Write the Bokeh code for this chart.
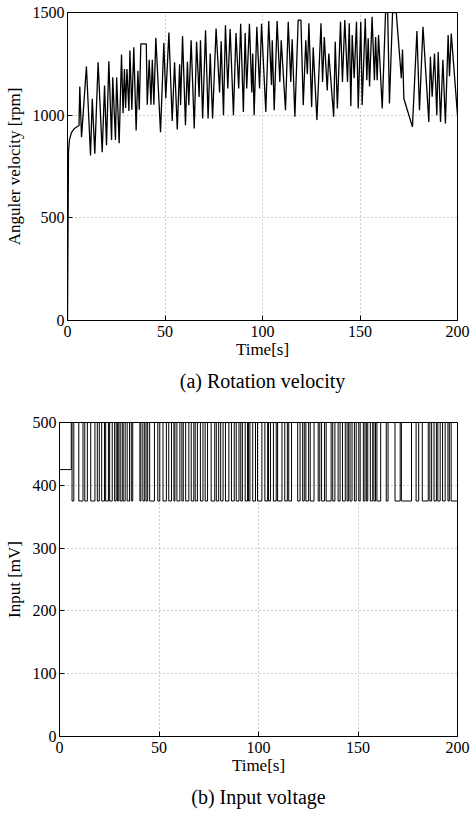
from bokeh.plotting import figure
from bokeh.models import Range1d, FixedTicker, Title
from bokeh.embed import file_html
from bokeh.resources import INLINE

# ---------------- data ----------------
# (a) rotation velocity: turning points of the measured trace
vel_t = [0.0, 0.5, 1.0, 2.0, 3.5, 5.9,
         6.3, 7.2, 9.7, 11.8, 12.7, 14.0, 15.7, 17.8, 19.0, 20.0, 21.2, 22.6, 23.2, 24.6,
         25.2, 26.5, 27.7, 28.5, 29.2, 29.8, 30.5, 31.5, 32.0, 33.0, 34.0, 35.2, 36.1, 36.8,
         37.6, 40.4, 40.9, 41.9, 42.8, 43.5, 44.3, 45.3, 47.7, 49.4, 50.4, 52.0, 53.7, 54.9,
         56.3, 57.5, 58.0, 59.0, 60.5, 61.5, 62.2, 63.4, 65.0, 66.2, 67.5, 68.2, 69.3, 70.8,
         72.1, 73.2, 74.4, 76.2, 78.0, 78.8, 80.0, 81.0, 82.2, 83.4, 85.1, 86.4, 87.8, 88.8,
         90.2, 91.1, 91.9, 93.3, 94.5, 95.0, 95.7, 97.1, 98.5, 99.5, 101.7, 103.2, 104.6, 105.0,
         106.0, 107.5, 108.9, 109.6, 111.8, 113.2, 114.5, 115.2, 116.6, 118.3, 119.7, 120.9,
         122.2, 123.0, 123.8, 125.2, 126.0, 127.9, 130.0, 130.8, 131.7, 133.2, 134.0, 136.5,
         137.3, 138.4, 140.0, 141.0, 142.2, 143.6, 144.5, 145.3, 146.0, 147.0, 148.2, 149.1,
         150.4, 151.1, 152.7, 153.5, 154.2, 154.9, 156.2, 157.4, 158.0, 158.8, 159.5, 161.4,
         163.1, 164.2, 165.1, 166.7, 168.6, 171.2, 171.8, 172.5, 176.9, 179.2, 180.5, 182.3,
         185.3, 186.1, 187.0, 188.2, 189.4, 190.1, 191.3, 192.5, 193.8, 195.2, 195.9, 196.8,
         200.0]
vel_rpm = [0, 820, 880, 915, 935, 950,
           1140, 893, 1237, 804, 1080, 812, 1258, 820, 1144, 853, 1263, 879, 1185, 879,
           1185, 863, 1295, 1010, 1225, 1035, 1225, 1020, 1315, 1027, 1331, 926, 1216, 1027,
           1347, 1347, 1051, 1270, 1051, 1270, 1051, 1377, 917, 1353, 1083, 1402, 972, 1258,
           930, 1248, 1049, 1385, 951, 1260, 1049, 1365, 935, 1357, 1089, 1365, 984, 1414,
           984, 1300, 984, 1422, 1110, 1360, 1000, 1438, 1130, 1420, 1000, 1400, 1130, 1445,
           1015, 1400, 1130, 1445, 1110, 1300, 1000, 1430, 1130, 1445, 1016, 1458, 1147, 1365,
           1024, 1458, 1162, 1365, 1024, 1455, 1162, 1370, 992, 1463, 1463, 1049,
           1365, 1200, 1447, 1040, 1330, 976, 1447, 1162, 1380, 1120, 1300, 992,
           1357, 1033, 1455, 1162, 1463, 1162, 1447, 1044, 1390, 1180, 1455, 1033,
           1455, 1049, 1471, 1170, 1375, 1140, 1479, 1170, 1380, 1170, 1390, 1033,
           1500, 1500, 1057, 1500, 1500, 1180, 1320, 1080, 943, 1410, 1024, 1430,
           967, 1285, 1090, 1300, 1000, 1308, 967, 1270, 960, 1390, 1190, 1398,
           1000]

# (b) input voltage levels [mV]
input_hold_mv = 425      # initial level
input_hold_until = 5.9   # s
input_high_mv = 500
input_low_mv = 375

x_ticks = [0, 50, 100, 150, 200]
vel_ticks = [0, 500, 1000, 1500]
inp_ticks = [0, 100, 200, 300, 400, 500]

# input switches high while the speed rises and low while it falls
inp_t = [0.0]
inp_mv = [input_hold_mv]
k0 = vel_t.index(input_hold_until)
for i in range(k0, len(vel_t) - 1):
    lvl = input_high_mv if vel_rpm[i + 1] >= vel_rpm[i] else input_low_mv
    inp_t.append(vel_t[i])
    inp_mv.append(lvl)
inp_t.append(vel_t[-1])
inp_mv.append(inp_mv[-1])

FONT = "Liberation Serif"


def style(p, yticks, ylabel, label_standoff, caption, cap_offset, cap_standoff):
    p.xaxis.ticker = FixedTicker(ticks=x_ticks)
    p.yaxis.ticker = FixedTicker(ticks=yticks)
    for ax in [p.xaxis[0], p.yaxis[0]]:
        ax.major_tick_in = 5
        ax.major_tick_out = 0
        ax.minor_tick_line_color = None
        ax.major_label_text_font = FONT
        ax.major_label_text_font_size = "16px"
        ax.major_label_text_color = "black"
        ax.axis_label_text_font = FONT
        ax.axis_label_text_font_size = "17px"
        ax.axis_label_text_font_style = "normal"
        ax.axis_label_text_color = "black"
        ax.axis_line_color = "black"
        ax.major_tick_line_color = "black"
    p.xaxis.axis_label = "Time[s]"
    p.xaxis.major_label_standoff = 5
    p.xaxis.axis_label_standoff = 0
    p.yaxis.axis_label = ylabel
    p.yaxis.major_label_standoff = 3
    p.yaxis.axis_label_standoff = label_standoff
    p.xgrid.ticker = FixedTicker(ticks=x_ticks)
    p.ygrid.ticker = FixedTicker(ticks=yticks)
    for g in [p.xgrid[0], p.ygrid[0]]:
        g.grid_line_color = "#9a9a9a"
        g.grid_line_dash = "1 3"
        g.grid_line_width = 1
    p.outline_line_color = "black"
    p.outline_line_width = 1
    p.background_fill_color = "white"
    p.border_fill_color = "white"
    cap = Title(text=caption, align="center", offset=cap_offset, standoff=cap_standoff,
                text_font=FONT, text_font_size="20px", text_font_style="normal",
                text_color="black")
    p.add_layout(cap, "below")


p1 = figure(width=471, height=404, x_range=Range1d(0, 200), y_range=Range1d(0, 1500),
            output_backend="svg", toolbar_location=None,
            min_border_left=67, min_border_right=14, min_border_top=12, min_border_bottom=84)
p1.line(vel_t, vel_rpm, line_color="black", line_width=1.3)
style(p1, vel_ticks, "Anguler velocity [rpm]", 6, "(a) Rotation velocity", -23, 12)

p2 = figure(width=471, height=414, x_range=Range1d(0, 200), y_range=Range1d(0, 500),
            output_backend="svg", toolbar_location=None,
            min_border_left=59, min_border_right=14, min_border_top=18, min_border_bottom=82)
p2.step(inp_t, inp_mv, mode="after", line_color="black", line_width=1)
style(p2, inp_ticks, "Input [mV]", 6, "(b) Input voltage", -19, 12)

open("out.html", "w").write(file_html([p1, p2], INLINE))
